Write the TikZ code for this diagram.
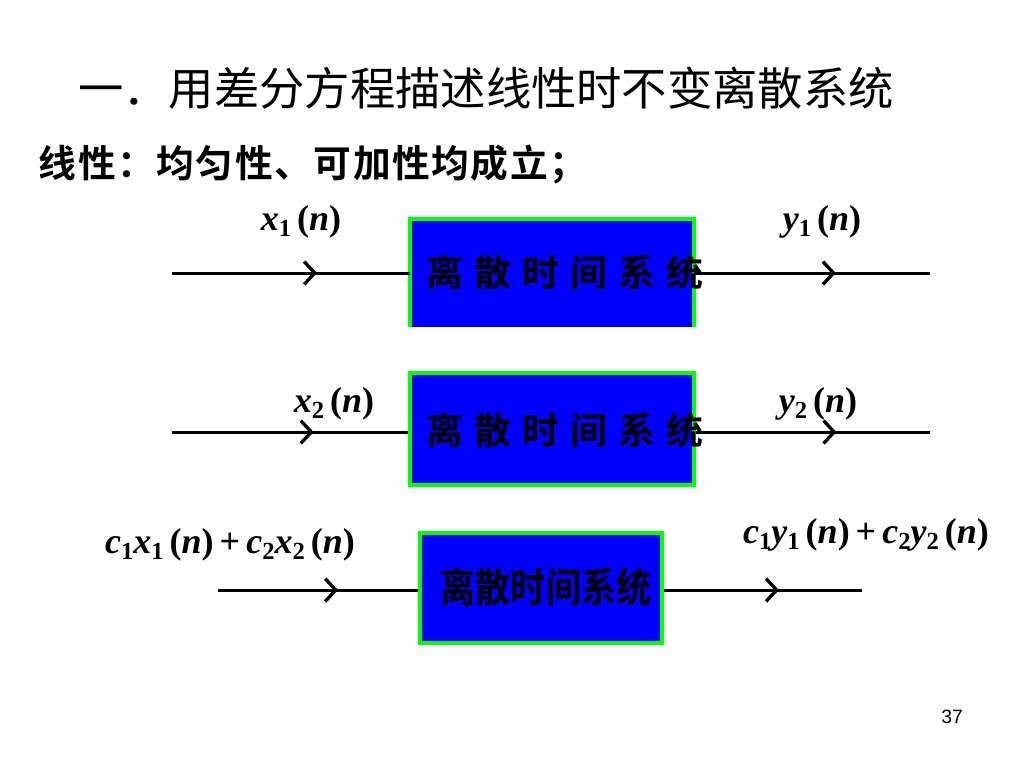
\documentclass[tikz,border=0pt]{standalone}
\usepackage{fontspec}
\setmainfont{Liberation Serif}
\newfontfamily\cjk{Noto Sans CJK SC}
\newfontfamily\cjkb{Noto Sans CJK SC Bold}
\newfontfamily\cjkspaced[LetterSpace=4]{Noto Sans CJK SC Bold}
\newfontfamily\pagefont{Liberation Sans}
\usetikzlibrary{arrows.meta,decorations.markings}
\definecolor{boxblue}{RGB}{0,0,255}
\definecolor{boxgreen}{RGB}{0,255,0}
% index and signal labels: bold italic letter, bold index, (n)
\newcommand{\idx}[1]{\raisebox{-0.35ex}{\fontsize{14}{14}\selectfont\textbf{#1}}}
\newcommand{\sig}[2]{\textbf{\textit{#1}}\idx{#2}\,\textbf{(}\textbf{\textit{n}}\textbf{)}}
\begin{document}
\begin{tikzpicture}[x=0.02cm,y=-0.02cm,
    sysbox/.style={fill=boxblue,draw=boxgreen,line width=2.3pt,inner sep=0pt},
    systext/.style={font=\cjkb\fontsize{21}{21}\selectfont,text=black},
    siglabel/.style={font=\fontsize{20.5}{21}\selectfont},
    flow/.style={line width=1.7pt,postaction={decorate},
      decoration={markings,mark=at position #1 with {\arrow{Straight Barb[length=6pt,width=13pt,line width=1.9pt]}}}}]
    \useasboundingbox (0,0) rectangle (1024,768);

    % title
    \node (title) at (486,88) {\cjk\fontsize{25.8}{26}\selectfont 一．用差分方程描述线性时不变离散系统};
    \node (sub) at (313,165) {\cjkspaced\fontsize{21.5}{22}\selectfont 线性：均匀性、可加性均成立；};

    % first system
    \node[fill=boxblue,inner sep=0pt,minimum width=5.68cm,minimum height=2.16cm] (b1) at (552,273) {};
    \draw[boxgreen,line width=2.3pt] (b1.south west) -- (b1.north west) -- (b1.north east) -- (b1.south east);
    \node[systext] (t1) at (565,272) {离\hspace{0.3em}散\hspace{0.3em}时\hspace{0.3em}间\hspace{0.3em}系\hspace{0.3em}统};
    \coordinate (in1) at (172,273);
    \coordinate (out1) at (930,273);
    \draw[flow=0.61] (in1) -- (in1 -| b1.west);
    \draw[flow=0.6] (out1 -| b1.east) -- (out1);
    \node[siglabel] (x1) at (301,222) {\sig{x}{1}};
    \node[siglabel] (y1) at (822,222) {\sig{y}{1}};

    % second system
    \node[sysbox,minimum width=5.68cm,minimum height=2.24cm] (b2) at (552,429) {};
    \node[systext] (t2) at (565,430) {离\hspace{0.3em}散\hspace{0.3em}时\hspace{0.3em}间\hspace{0.3em}系\hspace{0.3em}统};
    \coordinate (in2) at (172,432);
    \coordinate (out2) at (930,432);
    \draw[flow=0.6] (in2) -- (in2 -| b2.west);
    \draw[flow=0.6] (out2 -| b2.east) -- (out2);
    \node[siglabel] (x2) at (334,404) {\sig{x}{2}};
    \node[siglabel] (y2) at (818,404) {\sig{y}{2}};

    % superposition
    \node[sysbox,minimum width=4.84cm,minimum height=2.2cm] (b3) at (541,588) {};
    \node[systext,font=\cjkb\fontsize{20}{20}\selectfont,yscale=1.15] (t3) at (546,587) {离散时间系统};
    \coordinate (in3) at (218,590);
    \coordinate (out3) at (862,590);
    \draw[flow=0.6] (in3) -- (in3 -| b3.west);
    \draw[flow=0.58] (out3 -| b3.east) -- (out3);
    \node[siglabel] (xs) at (230,545) {\textbf{\textit{c}}\idx{1}\sig{x}{1}\,\textbf{+}\,\textbf{\textit{c}}\idx{2}\sig{x}{2}};
    \node[siglabel] (ys) at (866,535) {\textbf{\textit{c}}\idx{1}\sig{y}{1}\,\textbf{+}\,\textbf{\textit{c}}\idx{2}\sig{y}{2}};

    % page number
    \node[font=\pagefont\fontsize{11}{11}\selectfont] (page) at (952,717) {37};
\end{tikzpicture}
\end{document}
